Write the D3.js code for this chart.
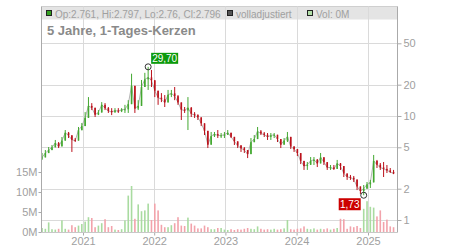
<!DOCTYPE html>
<html>
<head>
<meta charset="utf-8">
<script src="https://cdn.jsdelivr.net/npm/d3@7"></script>
<style>
body { margin: 0; background: #fff; }
text { font-family: "Liberation Sans", Arial, sans-serif; }
</style>
</head>
<body>
<svg id="chart" width="450" height="250"></svg>
<script>
// candles are ~17 days apart, starting early June 2020
const startDate = new Date(2020, 5, 5);
const stepDays = 17;
const firstOpen = 3.9;

const closes = [
  4.0, 4.4, 4.7, 5.0, 5.5, 5.1, 5.8, 6.9, 6.5, 5.9,
  5.8, 7.3, 8.0, 9.6, 12.5, 12.0, 10.3, 10.8, 12.8, 11.9,
  11.2, 10.9, 11.3, 11.1, 11.5, 11.6, 13.0, 19.5, 11.8, 12.5,
  19.0, 22.5, 23.5, 22.0, 17.5, 15.0, 14.5, 13.5, 16.0, 16.5,
  15.5, 13.5, 11.5, 11.3, 12.0, 10.5, 10.2, 9.7, 8.5, 7.2,
  5.3, 6.4, 6.7, 6.5, 6.5, 6.6, 6.9, 6.3, 5.7, 5.2,
  4.9, 4.7, 4.3, 5.6, 6.0, 7.1, 6.8, 6.6, 6.3, 6.5,
  6.6, 6.0, 5.3, 5.8, 6.3, 5.1, 4.8, 4.4, 3.7, 3.3,
  3.4, 3.7, 3.8, 3.5, 4.0, 3.6, 3.2, 3.2, 3.1, 3.5,
  3.3, 2.8, 2.6, 2.55, 2.45, 2.1, 1.9, 2.0, 2.2, 2.3,
  3.7, 3.4, 3.2, 3.1, 3.0, 2.9, 2.796
];
const highs = [
  4.41, 4.71, 5.03, 5.26, 5.88, 5.62, 6.28, 7.33, 7.02, 6.56,
  6.14, 7.84, 8.56, 10.9, 15.2, 13.3, 10.9, 11.4, 13.6, 13.3,
  12.2, 11.9, 11.9, 11.9, 11.9, 12.8, 14.2, 25.5, 14.8, 14.2,
  22.2, 26.0, 29.7, 27.7, 22.2, 16.6, 16.6, 15.9, 17.8, 17.8,
  19.0, 15.9, 13.3, 12.2, 15.2, 12.2, 10.9, 10.4, 9.15, 8.4,
  6.14, 7.02, 7.02, 7.33, 6.86, 7.02, 7.33, 6.56, 6.14, 5.62,
  5.26, 5.03, 4.71, 6.14, 6.56, 7.84, 7.33, 7.02, 6.86, 6.86,
  6.86, 6.56, 5.62, 6.14, 7.02, 5.5, 5.03, 4.71, 3.94, 3.61,
  3.61, 4.03, 4.03, 3.86, 4.41, 4.03, 3.53, 3.38, 3.38, 3.78,
  3.53, 3.16, 2.77, 2.71, 2.65, 2.37, 2.08, 2.17, 2.32, 2.43,
  4.22, 3.78, 3.53, 3.61, 3.38, 3.16, 3.03
];
const lows = [
  3.78, 4.22, 4.41, 4.71, 5.03, 4.92, 5.26, 6.56, 6.14, 4.51,
  5.62, 6.14, 7.33, 8.75, 10.2, 11.4, 9.78, 10.2, 11.4, 11.4,
  10.7, 10.2, 10.7, 10.7, 10.9, 10.7, 10.7, 16.6, 10.7, 11.4,
  16.6, 19.5, 17.8, 19.0, 15.2, 12.8, 13.6, 12.2, 14.9, 15.2,
  14.2, 12.8, 9.15, 10.7, 7.33, 9.78, 9.57, 9.15, 8.0, 6.56,
  4.92, 5.88, 6.28, 6.14, 6.14, 6.14, 6.56, 6.14, 5.26, 4.92,
  4.51, 4.41, 3.94, 4.51, 5.62, 6.56, 6.56, 6.28, 5.88, 5.88,
  6.14, 5.62, 4.92, 5.5, 5.62, 4.82, 4.51, 4.12, 3.45, 3.03,
  3.03, 3.38, 3.38, 3.23, 3.61, 3.38, 3.03, 3.03, 3.03, 3.23,
  3.03, 2.59, 2.43, 2.43, 2.32, 1.94, 1.78, 1.73, 2.03, 2.03,
  2.83, 3.16, 3.03, 2.59, 2.83, 2.83, 2.76
];
// volume in millions
const volumes = [
  1.0, 0.8, 2.4, 0.7, 0.6, 0.8, 2.9, 0.8, 0.6, 1.7,
  1.2, 1.6, 2.0, 2.6, 3.7, 3.5, 1.2, 1.6, 2.2, 3.2,
  1.2, 1.5, 0.6, 0.5, 0.7, 2.9, 9.1, 11.5, 3.3, 6.9,
  5.2, 5.4, 7.1, 3.0, 7.1, 5.4, 1.8, 1.2, 1.2, 1.7,
  2.2, 3.7, 1.6, 1.5, 3.6, 2.1, 1.6, 0.9, 0.9, 1.6,
  1.2, 0.7, 0.7, 1.0, 1.0, 0.6, 0.5, 0.7, 0.5, 0.7,
  0.6, 0.8, 1.0, 0.8, 0.7, 1.4, 0.8, 0.6, 0.7, 0.6,
  0.8, 0.6, 0.7, 0.9, 3.0, 0.7, 0.6, 0.8, 0.9, 1.4,
  0.8, 0.7, 0.9, 0.6, 0.8, 0.7, 0.9, 0.6, 0.8, 1.0,
  3.3, 3.2, 0.8, 1.4, 1.2, 1.5, 1.0, 5.8, 7.7, 6.3,
  6.1, 3.9, 5.4, 2.5, 3.1, 1.4, 1.2
];

const priceTicks = [1, 2, 5, 10, 20, 50];
const volTicks = [0, 5, 10, 15];
const yearTicks = [2021, 2022, 2023, 2024, 2025];
const legendText = "Op:2.761, Hi:2.797, Lo:2.76, Cl:2.796";
const title = "5 Jahre, 1-Tages-Kerzen";

const plot = { left: 41.5, right: 397.5, top: 6.5, bottom: 232.5 };
const green = "#43a830", red = "#bb111b";
const gridColor = "#dadada", axisColor = "#aaa", labelColor = "#a0a0a0";

const svg = d3.select("#chart");

const candles = closes.map((c, i) => ({
  date: d3.timeDay.offset(startDate, i * stepDays),
  open: i === 0 ? firstOpen : closes[i - 1],
  close: c, high: highs[i], low: lows[i], vol: volumes[i]
}));

const x = d3.scaleTime()
  .domain([new Date(2021, 0, 1), new Date(2025, 0, 1)])
  .range([83, 368]);
const y = d3.scaleLog().domain([1, 50]).range([220, 43.3]);
const yVol = d3.scaleLinear().domain([0, 15]).range([232, 172]);

// header band
svg.append("rect")
  .attr("x", plot.left).attr("y", plot.top)
  .attr("width", plot.right - plot.left).attr("height", 13)
  .attr("fill", "#e4e4e4");
svg.append("line")
  .attr("x1", plot.left).attr("x2", plot.right)
  .attr("y1", plot.top).attr("y2", plot.top)
  .attr("stroke", "#cfcfcf");

// grid
svg.append("g").selectAll("line").data(priceTicks).enter().append("line")
  .attr("x1", plot.left).attr("x2", plot.right)
  .attr("y1", d => Math.round(y(d)) + 0.5).attr("y2", d => Math.round(y(d)) + 0.5)
  .attr("stroke", gridColor);
svg.append("g").selectAll("line").data(yearTicks).enter().append("line")
  .attr("x1", d => Math.round(x(new Date(d, 0, 1))) + 0.5)
  .attr("x2", d => Math.round(x(new Date(d, 0, 1))) + 0.5)
  .attr("y1", plot.top).attr("y2", plot.bottom)
  .attr("stroke", gridColor);

// volume bars
svg.append("g").selectAll("rect").data(candles).enter().append("rect")
  .attr("x", d => x(d.date) - 0.8)
  .attr("width", 1.6)
  .attr("y", d => yVol(d.vol))
  .attr("height", d => yVol(0) - yVol(d.vol))
  .attr("fill", d => d.close >= d.open ? "#a9dba0" : "#f2a3ab");

// grey close line behind candles
const line = d3.line().x(d => x(d.date)).y(d => y(d.close));
svg.append("path").datum(candles).attr("d", line)
  .attr("fill", "none").attr("stroke", "#b4b4b4").attr("stroke-width", 1);

// candles
const cg = svg.append("g");
cg.selectAll("line").data(candles).enter().append("line")
  .attr("x1", d => x(d.date)).attr("x2", d => x(d.date))
  .attr("y1", d => y(Math.max(d.high, d.open, d.close)))
  .attr("y2", d => y(Math.min(d.low, d.open, d.close)))
  .attr("stroke", d => d.close >= d.open ? green : red)
  .attr("stroke-width", 1);
cg.selectAll("rect").data(candles).enter().append("rect")
  .attr("x", d => x(d.date) - 0.8)
  .attr("width", 1.6)
  .attr("y", d => y(Math.max(d.open, d.close)))
  .attr("height", d => Math.max(1, Math.abs(y(d.open) - y(d.close))))
  .attr("fill", d => d.close >= d.open ? green : red);

// axes
const rightAxis = svg.append("g")
  .attr("transform", `translate(${plot.right},0)`)
  .call(d3.axisRight(y).tickValues(priceTicks).tickFormat(d3.format("d")).tickSize(4));
const leftAxis = svg.append("g")
  .attr("transform", `translate(${plot.left},0)`)
  .call(d3.axisLeft(yVol).tickValues(volTicks).tickFormat(d => d + "M").tickSize(3));
const bottomAxis = svg.append("g")
  .attr("transform", `translate(0,${plot.bottom})`)
  .call(d3.axisBottom(x).tickValues(yearTicks.map(d => new Date(d, 0, 1)))
    .tickFormat(d3.timeFormat("%Y")).tickSize(3));
[rightAxis, leftAxis, bottomAxis].forEach(a => {
  a.select(".domain").remove();
  a.selectAll("line").attr("stroke", axisColor);
  a.selectAll("text").attr("fill", labelColor).style("font-size", "11px");
});
rightAxis.selectAll("text").attr("x", 6);
leftAxis.selectAll("text").attr("x", -4);
bottomAxis.selectAll("text").attr("y", 5);

svg.append("line").attr("x1", plot.left).attr("x2", plot.left)
  .attr("y1", plot.top).attr("y2", plot.bottom).attr("stroke", axisColor);
svg.append("line").attr("x1", plot.right).attr("x2", plot.right)
  .attr("y1", plot.top).attr("y2", plot.bottom).attr("stroke", axisColor);
svg.append("line").attr("x1", plot.left).attr("x2", plot.right)
  .attr("y1", plot.bottom).attr("y2", plot.bottom).attr("stroke", "#c8c8c8");

// legend in header
const legend = [
  { x: 46, fill: "#33a020", label: legendText },
  { x: 227, fill: "#555", label: "volladjustiert" },
  { x: 307, fill: "#b2dfa8", label: "Vol: 0M" }
];
const lg = svg.append("g").selectAll("g").data(legend).enter().append("g");
lg.append("rect")
  .attr("x", d => d.x + 0.5).attr("y", 10.5).attr("width", 5).attr("height", 5)
  .attr("fill", d => d.fill).attr("stroke", "#222");
lg.append("text")
  .attr("x", d => d.x + 9).attr("y", 17.5)
  .attr("fill", "#a0a0a0").style("font-size", "10px")
  .text(d => d.label);

svg.append("text").attr("x", 47).attr("y", 35)
  .attr("fill", "#8a8a8a").style("font-size", "13px").style("font-weight", "bold")
  .text(title);

// max / min markers
const hi = candles[d3.maxIndex(candles, d => d.high)];
const lo = candles[d3.minIndex(candles, d => d.low)];
const fmt = v => d3.format(".2f")(v).replace(".", ",");

svg.append("circle").attr("cx", x(hi.date)).attr("cy", y(hi.high)).attr("r", 3)
  .attr("fill", "none").attr("stroke", "#333");
const hiG = svg.append("g").attr("transform", `translate(${x(hi.date) + 3},${y(hi.high) - 14})`);
hiG.append("rect").attr("width", 27).attr("height", 11).attr("fill", "#0c9a0c");
hiG.append("text").attr("x", 13.5).attr("y", 9.5).attr("text-anchor", "middle")
  .attr("fill", "#fff").style("font-size", "10px").text(fmt(hi.high));

svg.append("circle").attr("cx", x(lo.date)).attr("cy", y(lo.low)).attr("r", 3)
  .attr("fill", "none").attr("stroke", "#333");
const loG = svg.append("g").attr("transform", `translate(${x(lo.date) - 25},${y(lo.low) + 3})`);
loG.append("rect").attr("width", 22).attr("height", 12).attr("fill", "#cc0000");
loG.append("text").attr("x", 11).attr("y", 10).attr("text-anchor", "middle")
  .attr("fill", "#fff").style("font-size", "10px").text(fmt(lo.low));
</script>
</body>
</html>
